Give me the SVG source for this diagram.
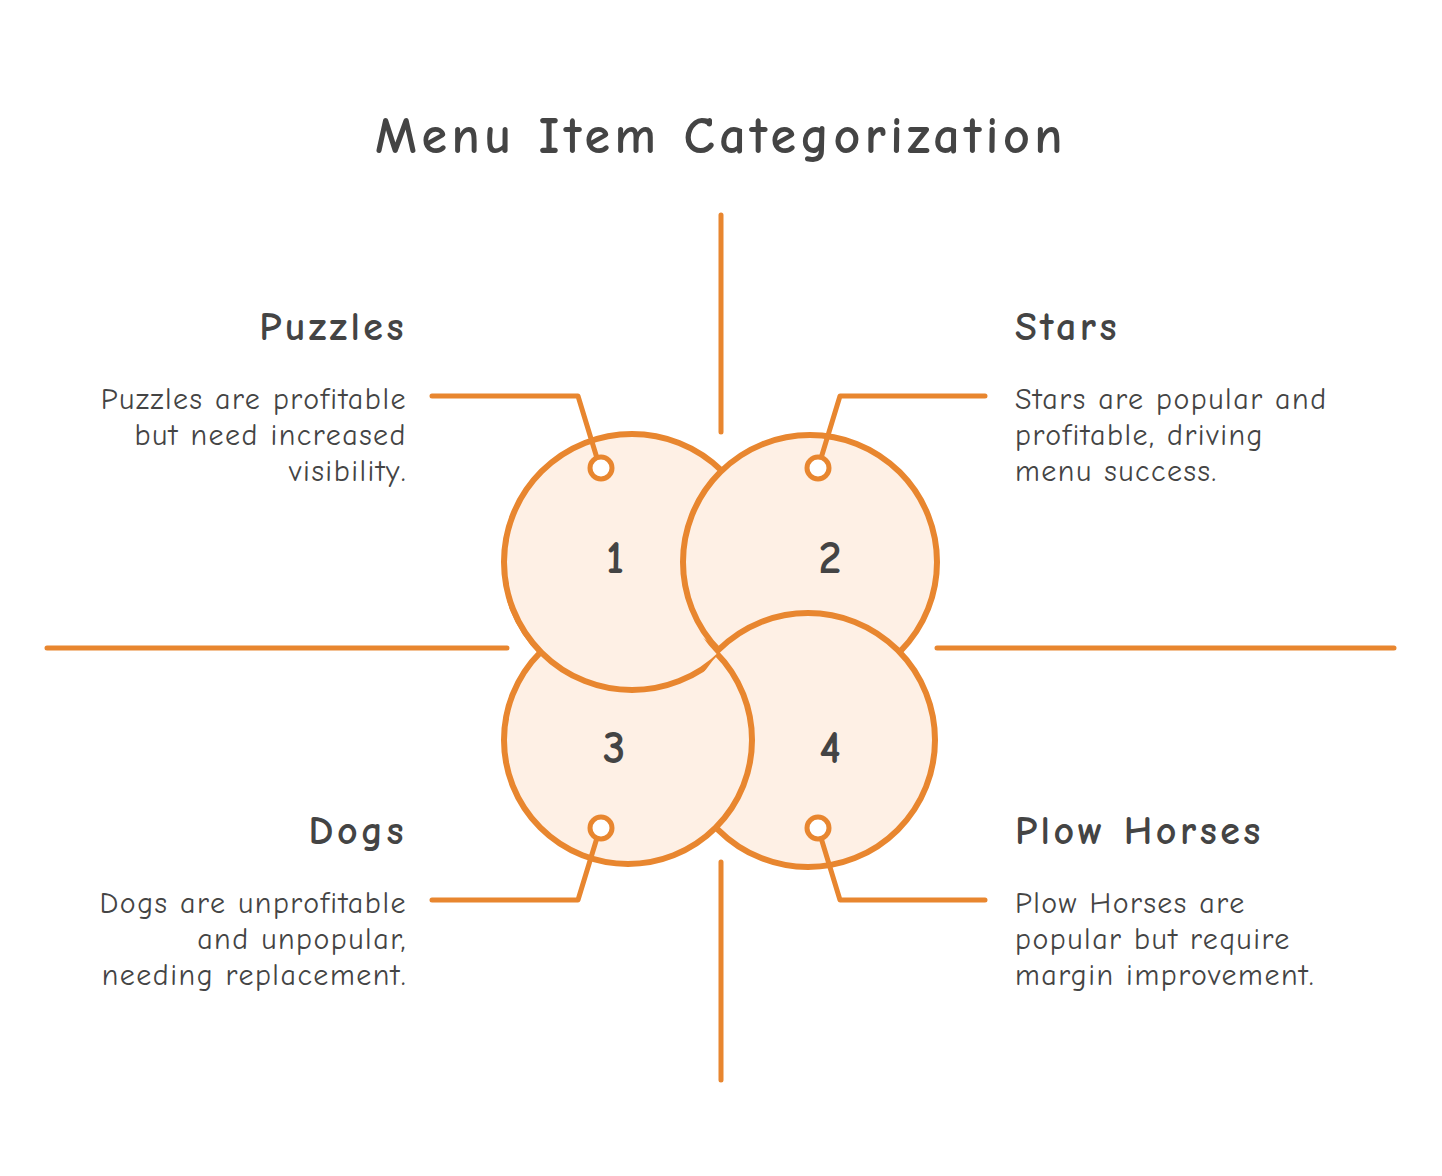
<svg xmlns="http://www.w3.org/2000/svg" width="1442" height="1176" viewBox="0 0 1442 1176">
<style>
.c{fill:#FEF0E5;stroke:#E8862F;stroke-width:6}
.l{fill:none;stroke:#E8862F;stroke-width:5;stroke-linecap:round;stroke-linejoin:round}
.d{fill:#fff;stroke:#E8862F;stroke-width:5}
.t{font-family:"Comic Neue","Lato",sans-serif;fill:#444;}
.h{font-size:40px;font-weight:bold;letter-spacing:3.5px}
.p{font-size:30px;letter-spacing:1.5px}
.n{font-size:46px;font-weight:bold;text-anchor:middle}
</style>
<defs>
<mask id="mk" maskUnits="userSpaceOnUse" x="0" y="0" width="1442" height="1176">
<rect x="470" y="600" width="280" height="110" fill="#fff"/>
<circle cx="810" cy="562" r="131" fill="#000"/>
<circle cx="808" cy="740" r="124" fill="#000"/>
</mask>
</defs>
<rect width="1442" height="1176" fill="#fff"/>
<text class="t" x="721" y="153" font-size="52" font-weight="bold" letter-spacing="4.5" text-anchor="middle">Menu Item Categorization</text>
<g id="axes">
<path class="l" d="M721 215V432M721 862V1080M47 648H507M937 648H1394"/>
</g>
<g id="circles">
<circle id="c1" class="c" cx="632" cy="562" r="128"/>
<circle id="c2" class="c" cx="810" cy="562" r="127"/>
<circle id="c4" class="c" cx="808" cy="740" r="127"/>
<circle id="c3" class="c" cx="628" cy="740" r="124"/>
<circle class="c" cx="632" cy="562" r="128" mask="url(#mk)"/>
<text class="t n" x="615" y="573">1</text>
<text class="t n" x="830" y="573">2</text>
<text class="t n" x="614" y="763">3</text>
<text class="t n" x="830" y="763">4</text>
</g>
<g id="connectors">
<path class="l" d="M432 396H578L600 468M985 396H840L818 468M432 900H578L600 828M985 900H840L818 828"/>
<circle class="d" cx="601" cy="468" r="11"/>
<circle class="d" cx="818" cy="468" r="11"/>
<circle class="d" cx="601" cy="828" r="11"/>
<circle class="d" cx="818" cy="828" r="11"/>
</g>
<g id="puzzles" class="t" text-anchor="end">
<text class="h" x="407" y="340">Puzzles</text>
<text class="p" x="407" y="409">Puzzles are profitable</text>
<text class="p" x="407" y="445">but need increased</text>
<text class="p" x="407" y="481">visibility.</text>
</g>
<g id="stars" class="t">
<text class="h" x="1015" y="340">Stars</text>
<text class="p" x="1015" y="409">Stars are popular and</text>
<text class="p" x="1015" y="445">profitable, driving</text>
<text class="p" x="1015" y="481">menu success.</text>
</g>
<g id="dogs" class="t" text-anchor="end">
<text class="h" x="407" y="844">Dogs</text>
<text class="p" x="407" y="913">Dogs are unprofitable</text>
<text class="p" x="407" y="949">and unpopular,</text>
<text class="p" x="407" y="985">needing replacement.</text>
</g>
<g id="plow" class="t">
<text class="h" x="1015" y="844">Plow Horses</text>
<text class="p" x="1015" y="913">Plow Horses are</text>
<text class="p" x="1015" y="949">popular but require</text>
<text class="p" x="1015" y="985">margin improvement.</text>
</g>
</svg>
